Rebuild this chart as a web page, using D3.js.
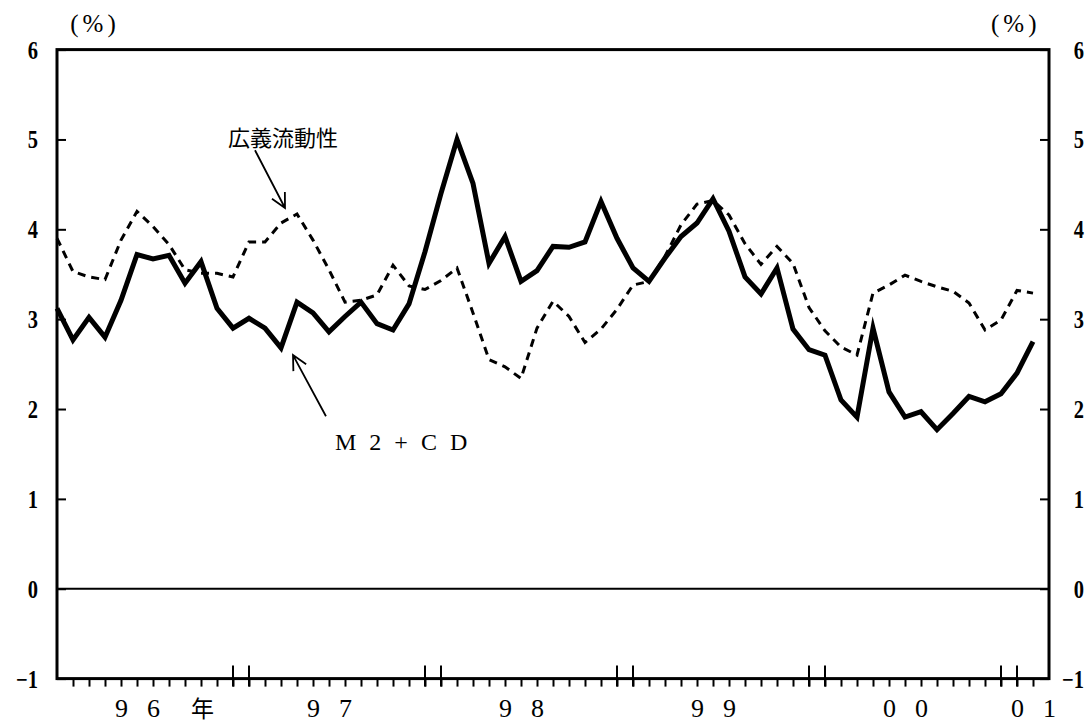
<!DOCTYPE html>
<html><head><meta charset="utf-8">
<script src="https://cdn.jsdelivr.net/npm/d3@7"></script>
<style>body{margin:0;background:#fff}svg{display:block}</style>
</head><body><svg id="c" width="1092" height="723"></svg>
<script>
// months: Jan 1996 (index 0) ... Mar 2001 (index 62)
const monthCount = 63;
const m2cd = [3.12,2.77,3.02,2.80,3.21,3.72,3.67,3.71,3.40,3.64,3.12,2.90,
  3.01,2.90,2.68,3.19,3.07,2.86,3.03,3.19,2.95,2.88,3.17,3.75,
  4.40,5.00,4.51,3.62,3.92,3.42,3.54,3.81,3.80,3.86,4.31,3.90,
  3.57,3.42,3.68,3.92,4.07,4.34,3.98,3.47,3.28,3.57,2.89,2.66,
  2.60,2.10,1.91,2.90,2.19,1.91,1.97,1.77,1.95,2.14,2.08,2.17,
  2.40,2.75];
const broad = [3.90,3.53,3.47,3.44,3.88,4.20,4.03,3.83,3.55,3.51,3.51,3.47,
  3.86,3.86,4.07,4.17,3.88,3.55,3.19,3.21,3.27,3.60,3.37,3.33,
  3.43,3.57,3.07,2.55,2.47,2.34,2.90,3.20,3.03,2.74,2.89,3.11,
  3.38,3.42,3.70,4.05,4.28,4.32,4.16,3.84,3.61,3.81,3.62,3.13,
  2.87,2.69,2.60,3.29,3.38,3.49,3.42,3.36,3.31,3.18,2.88,2.99,
  3.32,3.29];
const yTicks = [-1,0,1,2,3,4,5,6];
const yTickLabels = ["−1","0","1","2","3","4","5","6"];
const yearLabels = ["96","97","98","99","00","01"];
const yearLabelMonth = [5,17,29,41,53,61];     // month index under which each year label sits
const yearSuffix = "年";
const yearBoundaryMonths = [11,12,23,24,35,36,47,48,59,60]; // Dec / Jan pairs
const unitLabel = "(%)";
const seriesNames = ["広義流動性","M2+CD"];

const svg = d3.select("#c");
const L = 57, R = 1049, T = 49.6, B = 678.6;
const x = d3.scaleLinear().domain([0, monthCount - 1]).range([L, R]);
const y = d3.scaleLinear().domain([-1, 6]).range([B, T]);
const serif = "'Liberation Serif','DejaVu Serif',serif";
const cjk = "'Noto Sans CJK JP','Noto Sans CJK SC',sans-serif";
const SX = 0.82; // horizontal condensing of numeric labels

// zero line
svg.append("line").attr("x1", L).attr("x2", R).attr("y1", y(0)).attr("y2", y(0))
  .attr("stroke", "#000").attr("stroke-width", 2);

// left axis
const gl = svg.append("g").attr("transform", `translate(${L},0)`)
  .call(d3.axisLeft(y).tickValues(yTicks).tickSize(-9).tickPadding(19)
    .tickFormat((d, i) => yTickLabels[i]));
// right axis
const gr = svg.append("g").attr("transform", `translate(${R},0)`)
  .call(d3.axisRight(y).tickValues(yTicks).tickSize(-9).tickPadding(35)
    .tickFormat((d, i) => yTickLabels[i]));
[gl, gr].forEach((g, k) => {
  g.select(".domain").remove();
  g.selectAll(".tick line").attr("stroke", "#000").attr("stroke-width", 2);
  g.selectAll(".tick text")
    .attr("font-family", serif).attr("font-size", 25).attr("font-weight", "bold")
    .attr("fill", "#000").attr("dy", "0.34em")
    .attr("text-anchor", "end")
    .attr("x", function () { return (+d3.select(this).attr("x")) / SX; })
    .attr("transform", `scale(${SX},1)`);
});

// bottom axis monthly ticks
const gb = svg.append("g").attr("transform", `translate(0,${B})`)
  .call(d3.axisBottom(x).tickValues(d3.range(1, monthCount - 1)).tickSize(8).tickFormat(""));
gb.select(".domain").remove();
gb.selectAll(".tick line").attr("stroke", "#000").attr("stroke-width", 2);
// tall year-boundary ticks
svg.append("g").selectAll("line").data(yearBoundaryMonths).join("line")
  .attr("x1", d => x(d)).attr("x2", d => x(d))
  .attr("y1", B - 13).attr("y2", B + 8)
  .attr("stroke", "#000").attr("stroke-width", 2);

// frame
svg.append("rect").attr("x", L).attr("y", T).attr("width", R - L).attr("height", B - T)
  .attr("fill", "none").attr("stroke", "#000").attr("stroke-width", 3);

// year labels
svg.append("g").selectAll("text").data(yearLabels).join("text")
  .attr("x", (d, i) => x(yearLabelMonth[i]) + 10)
  .attr("y", 717)
  .attr("text-anchor", "middle")
  .attr("font-family", serif).attr("font-size", 26)
  .attr("letter-spacing", 19)
  .text(d => d);
svg.append("text").attr("x", x(9.1)).attr("y", 717).attr("text-anchor", "middle")
  .attr("font-family", cjk).attr("font-size", 23).text(yearSuffix);

// unit labels
[x(2.25), x(59.8)].forEach(px => {
  svg.append("text").attr("x", px + 2).attr("y", 32).attr("text-anchor", "middle")
    .attr("font-family", serif).attr("font-size", 25).attr("letter-spacing", 4)
    .text(unitLabel);
});

// lines
const line = d3.line().x((d, i) => x(i)).y(d => y(d));
svg.append("path").datum(broad).attr("d", line).attr("fill", "none")
  .attr("stroke", "#000").attr("stroke-width", 3).attr("stroke-dasharray", "8,6");
svg.append("path").datum(m2cd).attr("d", line).attr("fill", "none")
  .attr("stroke", "#000").attr("stroke-width", 5).attr("stroke-linejoin", "miter")
  .attr("stroke-miterlimit", 6);

// annotations (in data coordinates)
function arrow(i1, v1, i2, v2) {
  const x1 = x(i1), y1 = y(v1), x2 = x(i2), y2 = y(v2);
  const a = Math.atan2(y1 - y2, x1 - x2), len = 16, sp = 27 * Math.PI / 180;
  const p = d3.path();
  p.moveTo(x1, y1); p.lineTo(x2, y2);
  p.moveTo(x2 + len * Math.cos(a - sp), y2 + len * Math.sin(a - sp));
  p.lineTo(x2, y2);
  p.lineTo(x2 + len * Math.cos(a + sp), y2 + len * Math.sin(a + sp));
  svg.append("path").attr("d", p.toString()).attr("fill", "none")
    .attr("stroke", "#000").attr("stroke-width", 1.8);
}
arrow(12.375, 4.88, 14.25, 4.237);
arrow(16.81, 1.92, 14.75, 2.60);
svg.append("text").attr("x", x(17.56)).attr("y", y(4.926)).attr("text-anchor", "end")
  .attr("font-family", cjk).attr("font-size", 22).text(seriesNames[0]);
svg.append("text").attr("x", x(17.375)).attr("y", y(1.543))
  .attr("font-family", serif).attr("font-size", 24).attr("letter-spacing", 13)
  .text(seriesNames[1]);
</script>
</body></html>
